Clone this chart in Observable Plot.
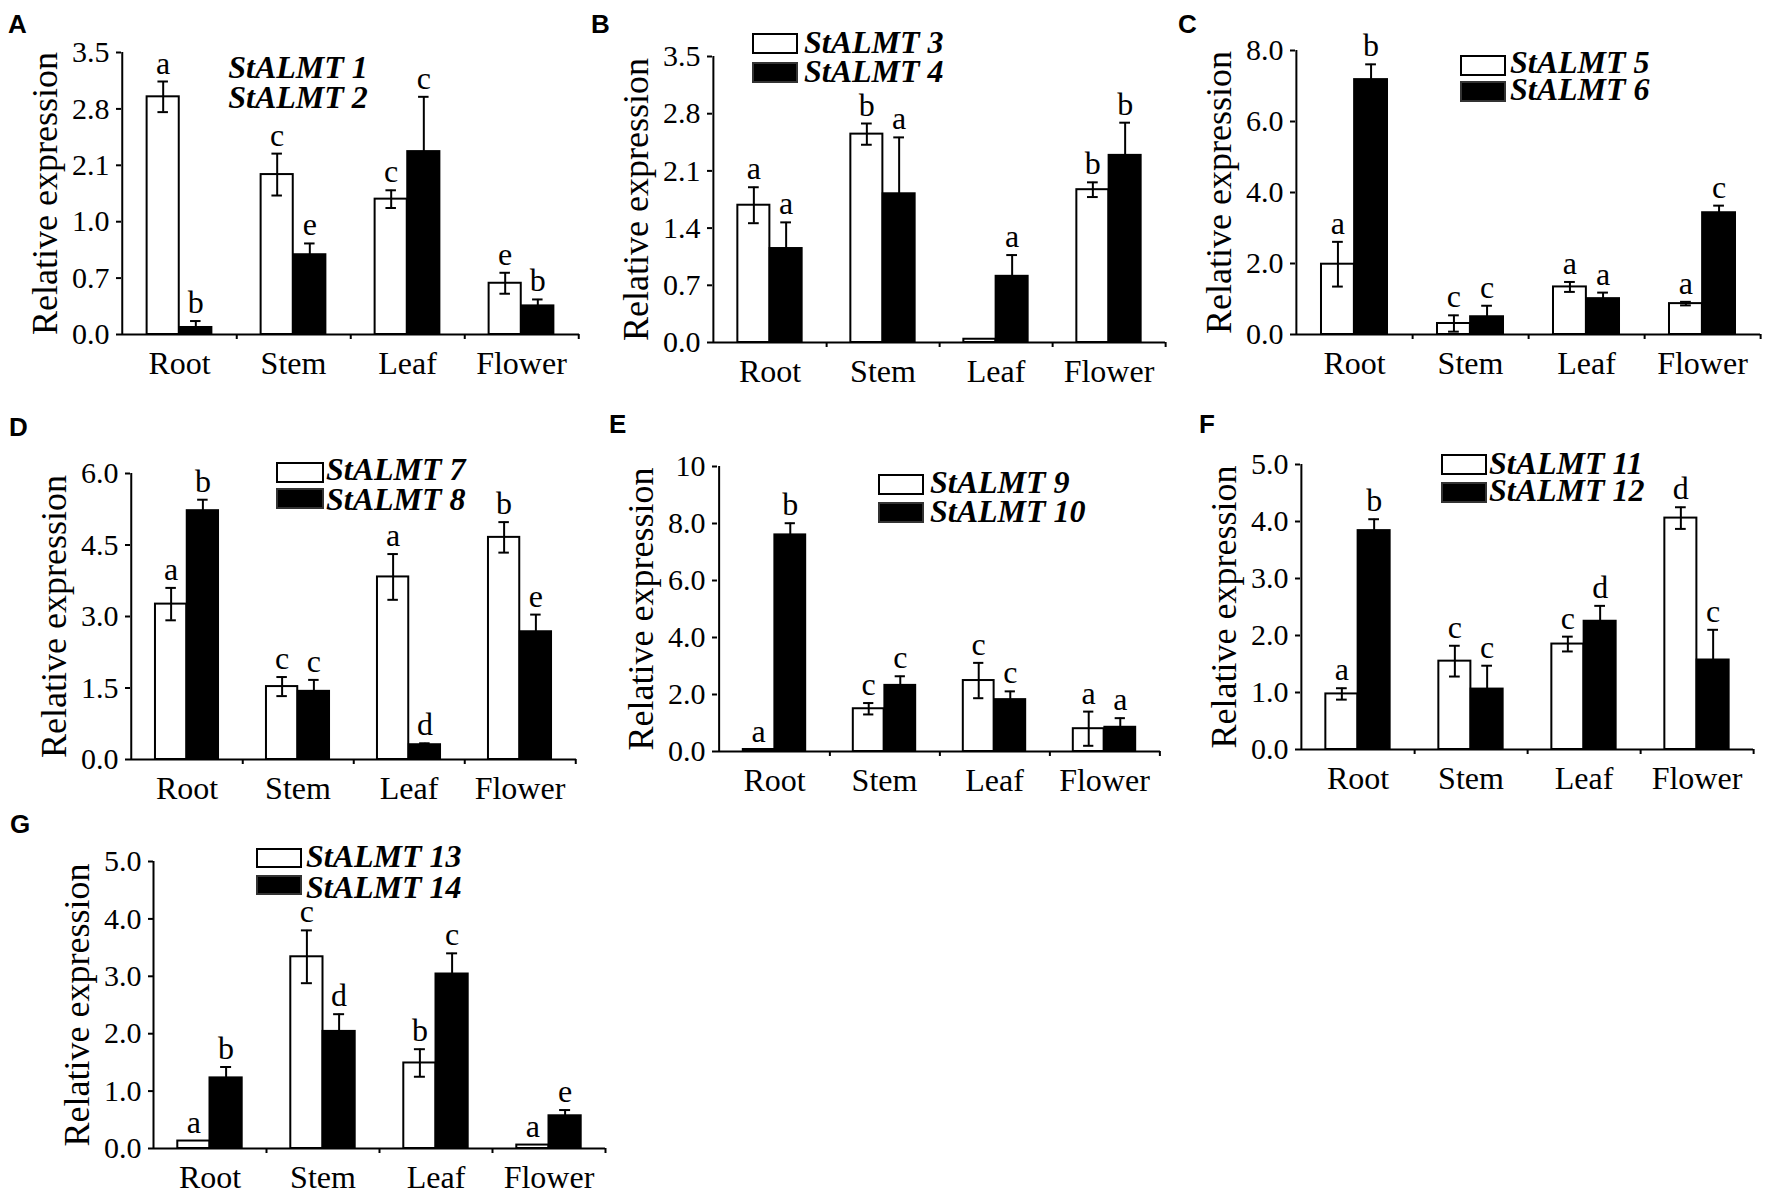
<!DOCTYPE html>
<html>
<head>
<meta charset="utf-8">
<script src="https://cdn.jsdelivr.net/npm/d3@7"></script>
<script src="https://cdn.jsdelivr.net/npm/@observablehq/plot@0.6"></script>
<style>
  html, body { margin: 0; padding: 0; background: #fff; }
  #fig { position: relative; width: 1772px; height: 1202px; background: #fff; overflow: hidden; }
  .panel { position: absolute; }
  .plabel { position: absolute; font-family: "Liberation Sans", Arial, sans-serif; font-weight: bold; font-size: 26px; line-height: 26px; color: #000; }
  .lgtext { position: absolute; font-family: "Liberation Serif", "Times New Roman", serif; font-weight: bold; font-style: italic; font-size: 32px; line-height: 32px; color: #000; white-space: nowrap; }
  .swatch { position: absolute; box-sizing: border-box; border: 2px solid #000; }
</style>
</head>
<body>
<div id="fig"></div>
<script>
// ---------------- data ----------------
const categories = ["Root", "Stem", "Leaf", "Flower"];
const yTitle = "Relative expression";

// Panel A: StALMT 1 (white) / StALMT 2 (black)
const aTicks = [0, 0.7, 1.4, 2.1, 2.8, 3.5];
const aTickLabels = ["0.0", "0.7", "1.0", "2.1", "2.8", "3.5"];
const aGenes = ["StALMT 1", "StALMT 2"];
const aWhite = [2.95, 1.985, 1.68, 0.636];
const aWhiteErr = [0.19, 0.26, 0.11, 0.13];
const aBlack = [0.087, 0.99, 2.27, 0.355];
const aBlackErr = [0.08, 0.14, 0.68, 0.08];
const aWhiteSig = ["a", "c", "c", "e"];
const aBlackSig = ["b", "e", "c", "b"];

// Panel B: StALMT 3 / StALMT 4
const bTicks = [0, 0.7, 1.4, 2.1, 2.8, 3.5];
const bTickLabels = ["0.0", "0.7", "1.4", "2.1", "2.8", "3.5"];
const bGenes = ["StALMT 3", "StALMT 4"];
const bWhite = [1.68, 2.55, 0.04, 1.87];
const bWhiteErr = [0.22, 0.13, 0, 0.09];
const bBlack = [1.15, 1.82, 0.81, 2.29];
const bBlackErr = [0.32, 0.69, 0.26, 0.40];
const bWhiteSig = ["a", "b", "", "b"];
const bBlackSig = ["a", "a", "a", "b"];

// Panel C: StALMT 5 / StALMT 6
const cTicks = [0, 2, 4, 6, 8];
const cTickLabels = ["0.0", "2.0", "4.0", "6.0", "8.0"];
const cGenes = ["StALMT 5", "StALMT 6"];
const cWhite = [1.98, 0.31, 1.34, 0.87];
const cWhiteErr = [0.63, 0.23, 0.14, 0.05];
const cBlack = [7.18, 0.50, 1.01, 3.43];
const cBlackErr = [0.43, 0.31, 0.17, 0.20];
const cWhiteSig = ["a", "c", "a", "a"];
const cBlackSig = ["b", "c", "a", "c"];

// Panel D: StALMT 7 / StALMT 8
const dTicks = [0, 1.5, 3, 4.5, 6];
const dTickLabels = ["0.0", "1.5", "3.0", "4.5", "6.0"];
const dGenes = ["StALMT 7", "StALMT 8"];
const dWhite = [3.26, 1.53, 3.83, 4.66];
const dWhiteErr = [0.34, 0.20, 0.48, 0.32];
const dBlack = [5.22, 1.43, 0.31, 2.68];
const dBlackErr = [0.23, 0.24, 0.03, 0.36];
const dWhiteSig = ["a", "c", "a", "b"];
const dBlackSig = ["b", "c", "d", "e"];

// Panel E: StALMT 9 / StALMT 10
const eTicks = [0, 2, 4, 6, 8, 10];
const eTickLabels = ["0.0", "2.0", "4.0", "6.0", "8.0", "10"];
const eGenes = ["StALMT 9", "StALMT 10"];
const eWhite = [0.07, 1.50, 2.49, 0.80];
const eWhiteErr = [0, 0.20, 0.62, 0.60];
const eBlack = [7.60, 2.32, 1.82, 0.85];
const eBlackErr = [0.41, 0.32, 0.29, 0.32];
const eWhiteSig = ["a", "c", "c", "a"];
const eBlackSig = ["b", "c", "c", "a"];

// Panel F: StALMT 11 / StALMT 12
const fTicks = [0, 1, 2, 3, 4, 5];
const fTickLabels = ["0.0", "1.0", "2.0", "3.0", "4.0", "5.0"];
const fGenes = ["StALMT 11", "StALMT 12"];
const fWhite = [0.975, 1.55, 1.85, 4.06];
const fWhiteErr = [0.10, 0.27, 0.13, 0.19];
const fBlack = [3.84, 1.06, 2.25, 1.57];
const fBlackErr = [0.20, 0.41, 0.27, 0.53];
const fWhiteSig = ["a", "c", "c", "d"];
const fBlackSig = ["b", "c", "d", "c"];

// Panel G: StALMT 13 / StALMT 14
const gTicks = [0, 1, 2, 3, 4, 5];
const gTickLabels = ["0.0", "1.0", "2.0", "3.0", "4.0", "5.0"];
const gGenes = ["StALMT 13", "StALMT 14"];
const gWhite = [0.13, 3.34, 1.49, 0.06];
const gWhiteErr = [0, 0.46, 0.24, 0];
const gBlack = [1.23, 2.04, 3.04, 0.57];
const gBlackErr = [0.19, 0.30, 0.36, 0.10];
const gWhiteSig = ["a", "c", "b", "a"];
const gBlackSig = ["b", "d", "c", "e"];

// ---------------- layout (pixels) ----------------
const panels = [
  {id: "A", ticks: aTicks, labels: aTickLabels, genes: aGenes, w: aWhite, we: aWhiteErr, b: aBlack, be: aBlackErr, ws: aWhiteSig, bs: aBlackSig,
   x0: 121, x1: 579, ytop: 52, base: 334, letter: [8, 11], legend: {boxes: false, cx: 298, base1: 78, base2: 108}},
  {id: "B", ticks: bTicks, labels: bTickLabels, genes: bGenes, w: bWhite, we: bWhiteErr, b: bBlack, be: bBlackErr, ws: bWhiteSig, bs: bBlackSig,
   x0: 712, x1: 1165, ytop: 56, base: 342, letter: [591, 11], legend: {boxes: true, bx: 752, bw: 46, y1: 33, y2: 62, bh: 21, tx: 804, base1: 53, base2: 82}},
  {id: "C", ticks: cTicks, labels: cTickLabels, genes: cGenes, w: cWhite, we: cWhiteErr, b: cBlack, be: cBlackErr, ws: cWhiteSig, bs: cBlackSig,
   x0: 1295, x1: 1760, ytop: 50, base: 334, letter: [1178, 11], legend: {boxes: true, bx: 1460, bw: 46, y1: 55, y2: 81, bh: 21, tx: 1510, base1: 73, base2: 100}},
  {id: "D", ticks: dTicks, labels: dTickLabels, genes: dGenes, w: dWhite, we: dWhiteErr, b: dBlack, be: dBlackErr, ws: dWhiteSig, bs: dBlackSig,
   x0: 130, x1: 576, ytop: 473, base: 759, letter: [9, 414], legend: {boxes: true, bx: 276, bw: 48, y1: 462, y2: 488, bh: 21, tx: 326, base1: 480, base2: 510}},
  {id: "E", ticks: eTicks, labels: eTickLabels, genes: eGenes, w: eWhite, we: eWhiteErr, b: eBlack, be: eBlackErr, ws: eWhiteSig, bs: eBlackSig,
   x0: 717, x1: 1160, ytop: 466, base: 751, letter: [609, 411], legend: {boxes: true, bx: 878, bw: 46, y1: 474, y2: 502, bh: 21, tx: 930, base1: 493, base2: 522}},
  {id: "F", ticks: fTicks, labels: fTickLabels, genes: fGenes, w: fWhite, we: fWhiteErr, b: fBlack, be: fBlackErr, ws: fWhiteSig, bs: fBlackSig,
   x0: 1300, x1: 1753, ytop: 464, base: 749, letter: [1199, 411], legend: {boxes: true, bx: 1441, bw: 46, y1: 454, y2: 482, bh: 21, tx: 1489, base1: 474, base2: 501}},
  {id: "G", ticks: gTicks, labels: gTickLabels, genes: gGenes, w: gWhite, we: gWhiteErr, b: gBlack, be: gBlackErr, ws: gWhiteSig, bs: gBlackSig,
   x0: 153, x1: 605, ytop: 861, base: 1148, letter: [10, 811], legend: {boxes: true, bx: 256, bw: 46, y1: 848, y2: 875, bh: 20, tx: 306, base1: 867, base2: 898}}
];

const fig = document.getElementById("fig");
const SERIF = "'Liberation Serif', 'Times New Roman', Times, serif";

function drawPanel(p) {
  const ML = 130, MR = 12, MT = 70, MB = 70;
  const W = p.x1 - p.x0, H = p.base - p.ytop;
  const band = W / categories.length;
  const barW = band * 0.285;
  const capW = 11;
  const ymax = p.ticks[p.ticks.length - 1];
  const rows = categories.map((c, i) => ({cat: c, w: p.w[i], we: p.we[i], b: p.b[i], be: p.be[i], ws: p.ws[i], bs: p.bs[i]}));
  const wErrRows = rows.filter(d => d.we > 0);
  const bErrRows = rows.filter(d => d.be > 0);

  const chart = Plot.plot({
    width: W + ML + MR,
    height: H + MT + MB,
    marginLeft: ML, marginRight: MR, marginTop: MT, marginBottom: MB,
    style: {fontFamily: SERIF, background: "transparent", overflow: "visible", color: "#000"},
    x: {domain: categories, padding: 0},
    y: {domain: [0, ymax]},
    marks: [
      // bars
      Plot.barY(rows, {x: "cat", y: "w", fill: "#fff", stroke: "#000", strokeWidth: 2,
        insetLeft: band / 2 - barW, insetRight: band / 2}),
      Plot.barY(rows, {x: "cat", y: "b", fill: "#000", stroke: "#000", strokeWidth: 2,
        insetLeft: band / 2, insetRight: band / 2 - barW}),
      // error bars (white series)
      Plot.ruleX(wErrRows, {x: "cat", y1: d => d.w - d.we, y2: d => d.w + d.we, dx: -barW / 2, stroke: "#000", strokeWidth: 2}),
      Plot.tickY(wErrRows, {x: "cat", y: d => d.w + d.we, stroke: "#000", strokeWidth: 2,
        insetLeft: band / 2 - barW / 2 - capW / 2, insetRight: band / 2 + barW / 2 - capW / 2}),
      Plot.tickY(wErrRows, {x: "cat", y: d => d.w - d.we, stroke: "#000", strokeWidth: 2,
        insetLeft: band / 2 - barW / 2 - capW / 2, insetRight: band / 2 + barW / 2 - capW / 2}),
      // error bars (black series)
      Plot.ruleX(bErrRows, {x: "cat", y1: d => d.b, y2: d => d.b + d.be, dx: barW / 2, stroke: "#000", strokeWidth: 2}),
      Plot.tickY(bErrRows, {x: "cat", y: d => d.b + d.be, stroke: "#000", strokeWidth: 2,
        insetLeft: band / 2 + barW / 2 - capW / 2, insetRight: band / 2 - barW / 2 - capW / 2}),
      // significance letters
      Plot.text(rows.filter(d => d.ws), {x: "cat", y: d => d.w + d.we, text: "ws", dx: -barW / 2, dy: -8,
        lineAnchor: "bottom", fontSize: 32, fill: "#000"}),
      Plot.text(rows.filter(d => d.bs), {x: "cat", y: d => d.b + d.be, text: "bs", dx: barW / 2, dy: -8,
        lineAnchor: "bottom", fontSize: 32, fill: "#000"}),
      // axis lines
      Plot.ruleY([0], {stroke: "#000", strokeWidth: 2}),
      Plot.tickX([categories[0]], {x: d => d, dx: -band / 2, stroke: "#000", strokeWidth: 2}),
      Plot.tickX(categories, {x: d => d, dx: band / 2, insetTop: H, insetBottom: -5, stroke: "#000", strokeWidth: 2}),
      Plot.axisY({ticks: p.ticks, tickFormat: d => p.labels[p.ticks.indexOf(d)], tickSize: 5, tickPadding: 7,
        fontSize: 30, label: null, stroke: "#000", strokeWidth: 2}),
      Plot.axisX({tickSize: 0, tickPadding: 17, fontSize: 32, label: null}),
      // y title
      Plot.text([yTitle], {frameAnchor: "left", textAnchor: "middle", lineAnchor: "middle", rotate: -90, dx: -76, fontSize: 36, fill: "#000"})
    ]
  });
  const holder = document.createElement("div");
  holder.className = "panel";
  holder.style.left = (p.x0 - ML) + "px";
  holder.style.top = (p.ytop - MT) + "px";
  holder.appendChild(chart);
  fig.appendChild(holder);

  // panel letter
  const L = document.createElement("div");
  L.className = "plabel";
  L.textContent = p.id;
  L.style.left = p.letter[0] + "px";
  L.style.top = p.letter[1] + "px";
  fig.appendChild(L);

  // legend
  const lg = p.legend;
  const fs = 32;
  if (lg.boxes) {
    [[lg.y1, "#fff"], [lg.y2, "#000"]].forEach(([yy, col]) => {
      const s = document.createElement("div");
      s.className = "swatch";
      s.style.left = lg.bx + "px";
      s.style.top = yy + "px";
      s.style.width = lg.bw + "px";
      s.style.height = lg.bh + "px";
      s.style.background = col;
      if (col === "#000") s.style.borderColor = "#333";
      fig.appendChild(s);
    });
    [[p.genes[0], lg.base1], [p.genes[1], lg.base2]].forEach(([t, bl]) => {
      const d = document.createElement("div");
      d.className = "lgtext";
      d.textContent = t;
      d.style.left = lg.tx + "px";
      d.style.top = (bl - fs * 0.8375) + "px";
      fig.appendChild(d);
    });
  } else {
    [[p.genes[0], lg.base1], [p.genes[1], lg.base2]].forEach(([t, bl]) => {
      const d = document.createElement("div");
      d.className = "lgtext";
      d.textContent = t;
      d.style.left = (lg.cx - 80) + "px";
      d.style.width = "160px";
      d.style.textAlign = "center";
      d.style.top = (bl - fs * 0.8375) + "px";
      fig.appendChild(d);
    });
  }
}

panels.forEach(drawPanel);
</script>
</body>
</html>
